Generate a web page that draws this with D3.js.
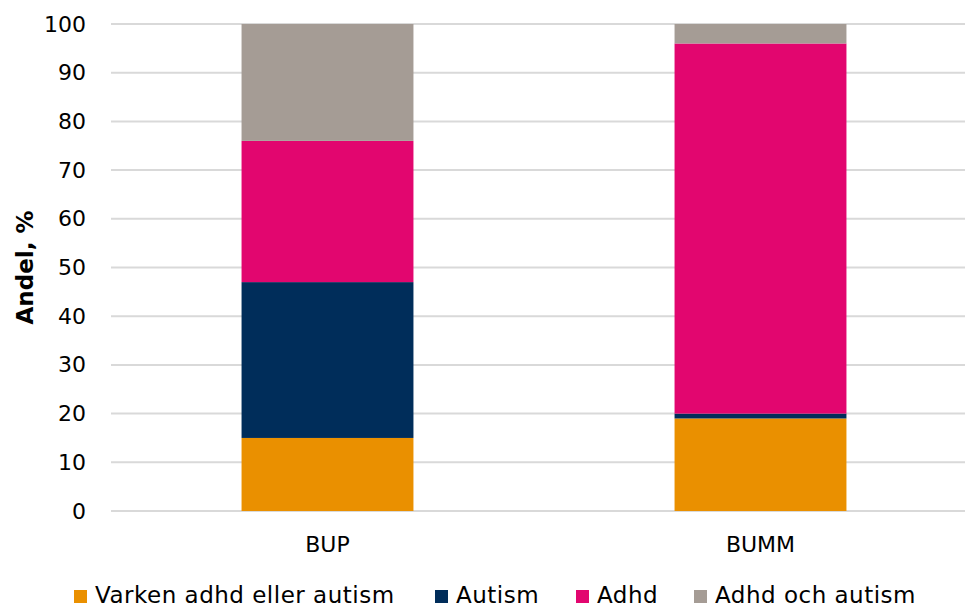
<!DOCTYPE html>
<html>
<head>
<meta charset="utf-8">
<script src="https://cdn.jsdelivr.net/npm/d3@7"></script>
<style>
  html, body { margin: 0; padding: 0; background: #fff; }
  svg { display: block; font-family: Verdana, "DejaVu Sans", sans-serif; }
</style>
</head>
<body>
<svg id="chart" width="965" height="608"></svg>
<script>
// Andel (%) per mottagning och diagnosgrupp
const categories = ["BUP", "BUMM"];
const seriesNames = ["Varken adhd eller autism", "Autism", "Adhd", "Adhd och autism"];
const varken = [15, 19];
const autism = [32, 1];
const adhd = [29, 76];
const adhdOchAutism = [24, 4];
const colors = ["#EA9000", "#002D5A", "#E2066F", "#A59C95"];
const yTicks = [0, 10, 20, 30, 40, 50, 60, 70, 80, 90, 100];

const rows = categories.map((c, i) => ({
  cat: c,
  "Varken adhd eller autism": varken[i],
  "Autism": autism[i],
  "Adhd": adhd[i],
  "Adhd och autism": adhdOchAutism[i]
}));

const svg = d3.select("#chart");
const margin = { left: 111, right: -12, top: 24, bottom: 97 };
const W = 965, H = 608;
const FONT = 22;

const x = d3.scaleBand()
  .domain(categories)
  .range([margin.left, W - margin.right])
  .paddingInner(0.603)
  .paddingOuter(0.3015);

const y = d3.scaleLinear()
  .domain([0, 100])
  .range([H - margin.bottom, margin.top]);

// gridlines
svg.append("g")
  .selectAll("line")
  .data(yTicks)
  .join("line")
  .attr("x1", margin.left)
  .attr("x2", W)
  .attr("y1", d => y(d))
  .attr("y2", d => y(d))
  .attr("stroke", "#d9d9d9")
  .attr("stroke-width", 2);

// y axis labels
const yAxis = svg.append("g")
  .attr("transform", `translate(${margin.left - 25},0)`)
  .call(d3.axisLeft(y).tickValues(yTicks).tickSize(0).tickPadding(0));
yAxis.select(".domain").remove();
yAxis.selectAll("text")
  .attr("font-size", FONT)
  .attr("fill", "#000")
  .attr("font-family", "Verdana, 'DejaVu Sans', sans-serif");

// stacked bars
const stacked = d3.stack().keys(seriesNames)(rows);

svg.append("g")
  .selectAll("g")
  .data(stacked)
  .join("g")
  .attr("fill", (d, i) => colors[i])
  .selectAll("rect")
  .data(d => d)
  .join("rect")
  .attr("x", d => x(d.data.cat))
  .attr("width", x.bandwidth())
  .attr("y", d => y(d[1]))
  .attr("height", d => y(d[0]) - y(d[1]));

// x axis labels
const xAxis = svg.append("g")
  .attr("transform", `translate(0,${H - margin.bottom})`)
  .call(d3.axisBottom(x).tickSize(0).tickPadding(0));
xAxis.select(".domain").remove();
xAxis.selectAll("text")
  .attr("dy", null)
  .attr("y", 41)
  .attr("font-size", FONT)
  .attr("fill", "#000")
  .attr("font-family", "Verdana, 'DejaVu Sans', sans-serif");

// y axis title
svg.append("text")
  .attr("transform", `translate(33,${(y(0) + y(100)) / 2}) rotate(-90)`)
  .attr("text-anchor", "middle")
  .attr("font-size", 23)
  .attr("font-weight", "bold")
  .attr("fill", "#000")
  .text("Andel, %");

// legend
const legendX = [74, 435, 576, 694];
const legend = svg.append("g");
seriesNames.forEach((name, i) => {
  const g = legend.append("g").attr("transform", `translate(${legendX[i]},590)`);
  g.append("rect").attr("width", 13).attr("height", 13).attr("fill", colors[i]);
  g.append("text")
    .attr("x", 21)
    .attr("y", 13)
    .attr("font-size", 23)
    .attr("letter-spacing", 0.5)
    .attr("fill", "#000")
    .text(name);
});
</script>
</body>
</html>
